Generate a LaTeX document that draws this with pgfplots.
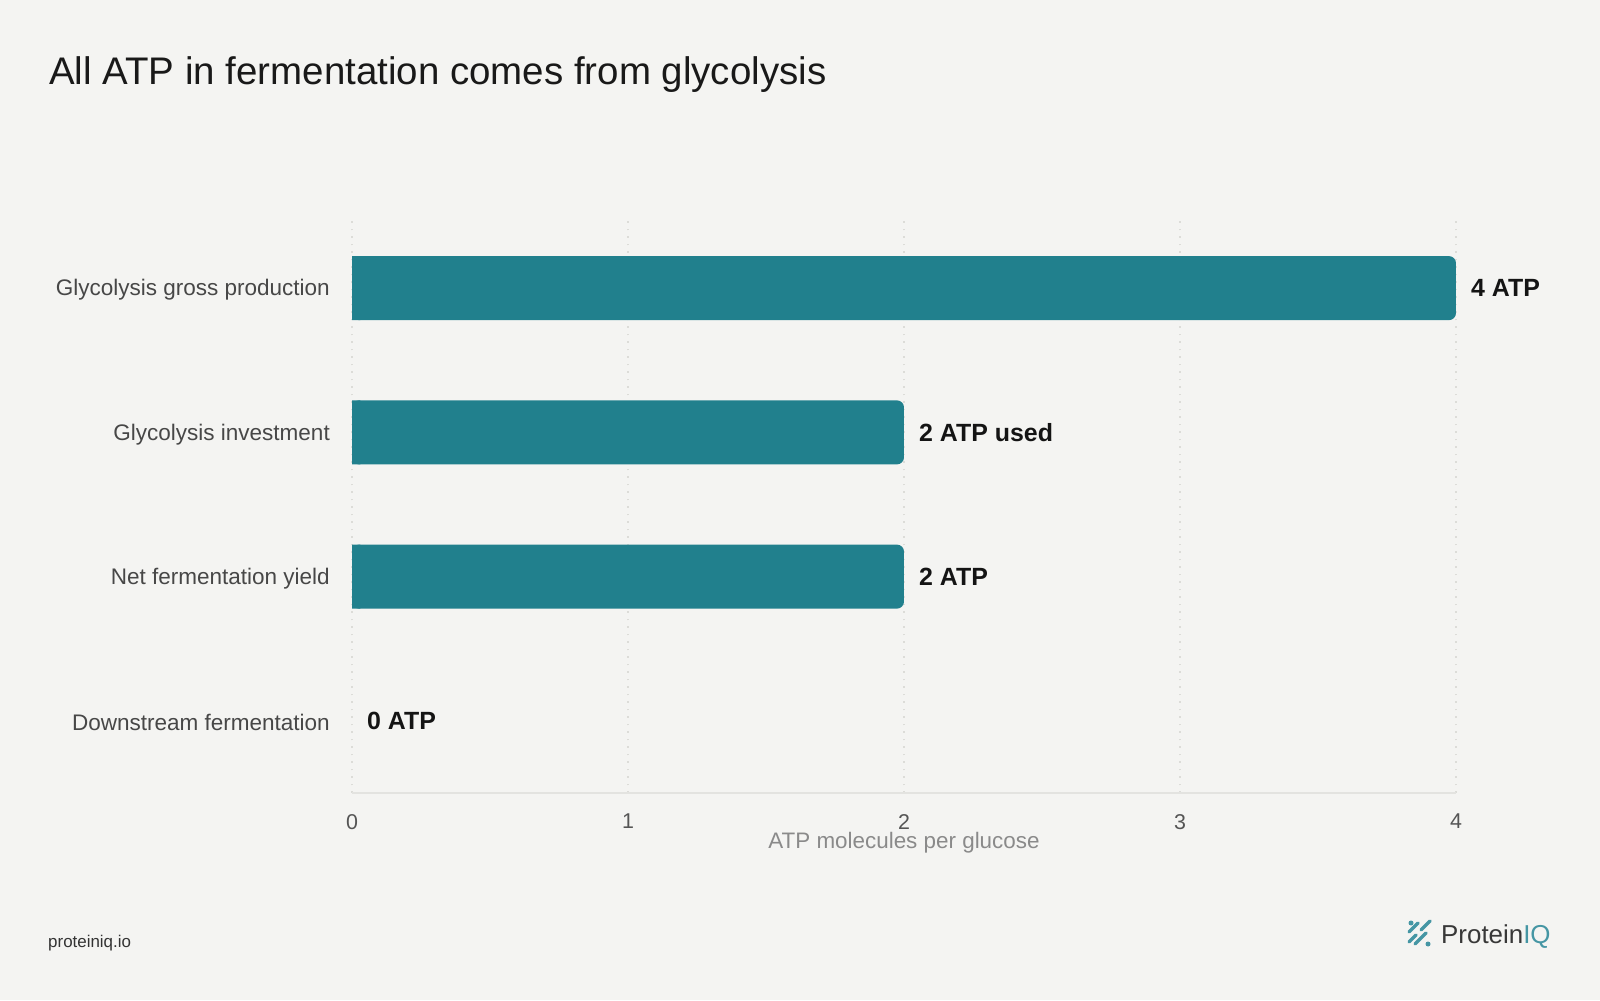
\documentclass[border=0pt]{standalone}
\usepackage{fontspec}
\setmainfont{Liberation Sans}
\usepackage{pgfplots}
\pgfplotsset{compat=1.18}
\definecolor{bg}{HTML}{F4F4F2}
\definecolor{barc}{HTML}{21808D}
\definecolor{gridc}{HTML}{DCDCD8}
\definecolor{axisc}{HTML}{E3E3E0}
\definecolor{catc}{HTML}{474747}
\definecolor{tickc}{HTML}{555555}
\definecolor{labc}{HTML}{8A8A8A}
\definecolor{logoc}{HTML}{4596A4}
\begin{document}
\begin{tikzpicture}[x=1bp,y=1bp]
\fill[bg] (0,0) rectangle (1600,1000);
\node[anchor=base west, inner sep=0, font=\fontsize{38.6}{40}\selectfont, text=black!90] at (49,915) {All ATP in fermentation comes from glycolysis};
\begin{axis}[
  at={(352bp,207bp)}, anchor=south west,
  scale only axis, width=1104bp, height=577bp,
  xmin=0, xmax=4, ymin=-0.5, ymax=3.5,
  axis x line=bottom, axis y line=left,
  x axis line style={-, color=axisc, line width=1.5bp},
  y axis line style={draw=none},
  xtick={0,1,2,3,4}, major tick length=0pt,
  xmajorgrids, grid style={color=gridc, line width=1.5bp, dash pattern=on 1.5bp off 6bp},
  ytick={0,1,2,3},
  yticklabels={Downstream fermentation, Net fermentation yield, Glycolysis investment, Glycolysis gross production},
  yticklabel style={font=\fontsize{22.6}{24}\selectfont, text=catc, inner sep=0pt, anchor=east, xshift=-22bp, yshift=-2bp},
  xticklabel style={font=\fontsize{21.5}{23}\selectfont, text=tickc, inner sep=0pt, anchor=north, yshift=-21bp},
  /pgf/number format/assume math mode=true,
  xlabel={ATP molecules per glucose},
  xlabel style={font=\fontsize{22.5}{24}\selectfont, text=labc, at={(axis description cs:0.5,0)}, anchor=center, yshift=-50bp},
  clip=false,
]
\addplot[xbar, bar shift=0pt, bar width=64bp, fill=barc, draw=none, rounded corners=7bp,
  nodes near coords, point meta=explicit symbolic,
  nodes near coords style={anchor=west, inner sep=0pt, xshift=15bp, font=\fontsize{25}{27}\selectfont\bfseries, text=black!92}]
  coordinates {(4,3) [4 ATP] (2,2) [2 ATP used] (2,1) [2 ATP]};
\addplot[xbar, bar shift=0pt, bar width=64bp, fill=barc, draw=none, forget plot]
  coordinates {(0.03,3) (0.03,2) (0.03,1)};
\addplot[xbar, bar shift=0pt, bar width=64bp, fill=none, draw=none,
  nodes near coords, point meta=explicit symbolic,
  nodes near coords style={anchor=west, inner sep=0pt, xshift=15bp, font=\fontsize{25}{27}\selectfont\bfseries, text=black!92}]
  coordinates {(0,0) [0 ATP]};
\end{axis}
\node[anchor=base west, inner sep=0, font=\fontsize{17}{19}\selectfont, text=black!80] at (48,53) {proteiniq.io};
\begin{scope}[logoc, line cap=round, line width=3.5bp]
\draw (1409,58) -- (1416,65);
\draw (1409,68) -- (1418,77) ;
\draw (1415,56) -- (1426,67);
\draw (1421,70) -- (1430,79);
\fill (1411,77) circle (2.5bp);
\fill (1428,56) circle (2.5bp);
\end{scope}
\node[anchor=base west, inner sep=0, font=\fontsize{26}{28}\selectfont] at (1441,57) {\textcolor{black!78}{Protein}\textcolor{logoc}{IQ}};
\end{tikzpicture}
\end{document}
